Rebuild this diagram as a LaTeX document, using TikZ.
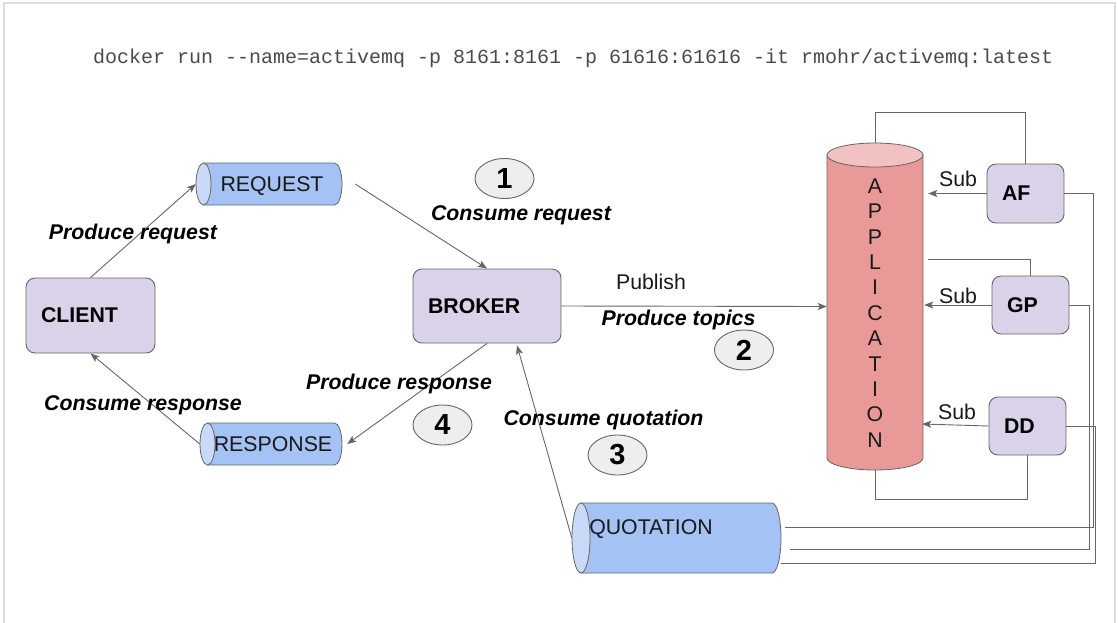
\documentclass[tikz,border=0pt]{standalone}
\usepackage{fontspec}
\setmainfont{Liberation Sans}
\newfontfamily\cmdfont{Liberation Mono}
\usetikzlibrary{arrows.meta,shapes.geometric,calc}
\definecolor{lav}{HTML}{D9D2E9}
\definecolor{edge}{HTML}{666666}
\definecolor{bluebody}{HTML}{A4C2F4}
\definecolor{bluecap}{HTML}{C9DAF8}
\definecolor{appbody}{HTML}{EA9999}
\definecolor{apptop}{HTML}{F2C1C1}
\definecolor{numfill}{HTML}{EEEEEE}
\definecolor{frame}{HTML}{DDDDDD}
\definecolor{cmdgray}{HTML}{4A4A4A}
\newcommand\fsz{\fontsize{21.3}{25}\selectfont}
\newcommand\hcyl[5]{%
  \path[draw=edge, fill=bluebody, line width=0.8pt] ({#1+#5},#2) -- ({#3-#5},#2)
     arc[start angle=-90, end angle=90, x radius=#5, y radius={(#4-#2)/2}] -- ({#1+#5},#4) -- cycle;
  \path[draw=edge, fill=bluecap, line width=0.8pt] ({#1+#5},{(#2+#4)/2}) ellipse[x radius=#5, y radius={(#4-#2)/2}];
}
\tikzset{
  box/.style={draw=edge, fill=lav, rounded corners=9pt, line width=0.9pt, inner xsep=15pt, inner ysep=0pt, align=left, font=\bfseries\fsz, text=black},
  hold/.style={inner sep=0pt, draw=none},
  num/.style={ellipse, draw=edge, fill=numfill, line width=0.9pt, inner sep=0pt, minimum width=59pt, minimum height=40pt, font=\bfseries\fontsize{29}{32}\selectfont},
  lbl/.style={font=\bfseries\itshape\fsz, text=black, inner sep=0pt, text depth=0pt},
  plain/.style={font=\fsz, text=black!90, inner sep=0pt, text depth=0pt},
  conn/.style={draw=edge, line width=0.9pt},
  arr/.style={conn, -{Stealth[length=9pt,width=7pt,inset=2pt]}}
}
\begin{document}
\begin{tikzpicture}[x=1pt,y=-1pt]
\useasboundingbox (0,0) rectangle (1118,622);
\draw[frame, line width=1.5pt] (4,630) -- (4,3) -- (1115,3) -- (1115,630);

% command
\node[anchor=west, inner sep=0pt, font=\cmdfont\fontsize{20}{24}\selectfont, text=cmdgray] (cmd) at (93,58)
  {docker run -\kern0pt-name=activemq -p 8161:8161 -p 61616:61616 -it rmohr/activemq:latest};

% cylinders
\hcyl{196}{163}{342}{205}{7.5}
\hcyl{200}{423}{342}{465}{7.5}
\hcyl{572}{503}{781}{573}{9}
\path[draw=edge, fill=appbody, line width=0.8pt] (827,155) -- (827,458)
   arc[start angle=180, end angle=0, x radius=48, y radius=12] -- (923,155) -- cycle;
\path[draw=edge, fill=apptop, line width=0.8pt] (875,155) ellipse[x radius=48, y radius=12];

\node[hold, minimum width=146pt, minimum height=42pt] (req) at (269,184) {};
\node[plain] (reqt) at (272,184) {REQUEST};
\node[hold, minimum width=142pt, minimum height=42pt] (resp) at (271,444) {};
\node[plain] (respt) at (273,444) {RESPONSE};
\node[hold, minimum width=209pt, minimum height=70pt] (quot) at (676.5,538) {};
\node[plain] (quott) at (651,527) {QUOTATION};
\node[hold, minimum width=96pt, minimum height=327pt] (app) at (875,306.5) {};
\node[font=\fontsize{21.3}{25.4}\selectfont, align=center, inner sep=0pt, text=black!90] (appt) at (875,313)
  {A\\P\\P\\L\\I\\C\\A\\T\\I\\O\\N};

% boxes
\node[box, minimum height=75pt, text width=99pt] (client) at (90.5,315.5) {CLIENT};
\node[box, minimum height=74pt, text width=118pt] (broker) at (487,306) {BROKER};
\node[box, minimum height=59pt, text width=47pt] (af) at (1025.5,193.5) {AF};
\node[box, minimum height=58pt, text width=47pt] (gp) at (1030.5,305) {GP};
\node[box, minimum height=58pt, text width=47pt] (dd) at (1027.5,426) {DD};

% numbers
\node[num] (n1) at (504.5,178.5) {1};
\node[num] (n2) at (744,350) {2};
\node[num] (n3) at (617.5,455) {3};
\node[num] (n4) at (442.5,425) {4};

% left loop connectors
\draw[arr] (client.north) -- (req.west);
\draw[arr] ($(req.east)+(13,0)$) -- (broker.north);
\draw[arr] (broker.south) -- ($(resp.east)+(5,0)$);
\draw[arr] (resp.west) -- (client.south);
\draw[arr] (quot.west) -- ($(broker.south)+(30,2)$);
\draw[arr] (broker.east) -- (app.west);

% subscriptions
\draw[arr] (af.west) -- ($(app.east |- af.west)+(5,0)$);
\draw[arr] (gp.west) -- ($(app.east |- gp.west)+(1,0)$);
\draw[arr] (dd.west) -- ($(app.east |- dd.west)+(-1,-2)$);

% wiring
\draw[conn] (app.north) -- ++(0,-30) -| (af.north);
\coordinate (gpin) at (928,259);
\draw[conn] (gpin) -| (gp.north);
\draw[conn] (dd.south) -- ++(0,44) -| (app.south);
\draw[conn] (af.east) -- ++(29,0) |- ($(quot.east)+(4,-11)$);
\draw[conn] (gp.east) -- ++(20,0) |- ($(quot.east)+(9,11)$);
\draw[conn] (dd.east) -- ++(29,0) |- ($(quot.east)+(0,25)$);

% labels
\node[lbl] (l1) at (521,213) {Consume request};
\node[lbl] (l2) at (133,232) {Produce request};
\node[lbl] (l3) at (143,403) {Consume response};
\node[lbl] (l4) at (399,382) {Produce response};
\node[lbl] (l5) at (603.5,418) {Consume quotation};
\node[lbl] (l6) at (678.5,318) {Produce topics};
\node[plain] (pub) at (651,282) {Publish};
\node[plain] (s1) at (958,179) {Sub};
\node[plain] (s2) at (958,296) {Sub};
\node[plain] (s3) at (957,412) {Sub};
\end{tikzpicture}
\end{document}
